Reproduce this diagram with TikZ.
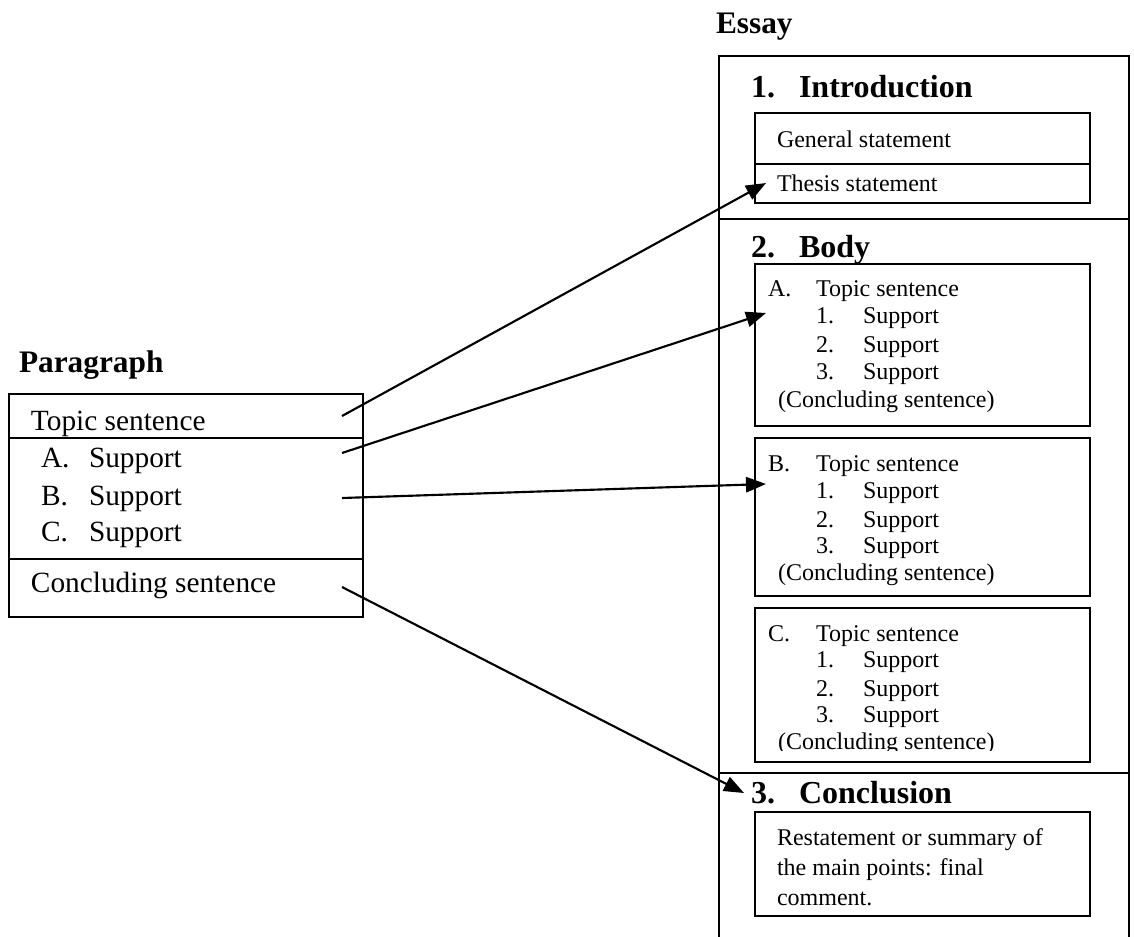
\documentclass[tikz,border=0pt]{standalone}
\usepackage{fontspec}
\setmainfont{Liberation Serif}
\usetikzlibrary{arrows.meta}
\begin{document}
\begin{tikzpicture}[x=0.75pt,y=-0.75pt, line width=1.5pt,
  txt/.style={anchor=base west, inner sep=0pt, font=\fontsize{18}{20}\selectfont},
  ptxt/.style={anchor=base west, inner sep=0pt, font=\fontsize{22}{24}\selectfont},
  sec/.style={anchor=base west, inner sep=0pt, font=\fontsize{24}{28}\selectfont\bfseries},
  ttl/.style={anchor=base west, inner sep=0pt, font=\fontsize{23.5}{26}\selectfont\bfseries},
  arr/.style={line width=1.6pt, -{Triangle[length=15pt,width=11.5pt]}}]
\useasboundingbox (0,0) rectangle (1134,936);
\clip (0,0) rectangle (1134,936);

% ---------- Paragraph ----------
\node[ttl] (ptitle) at (18,372) {Paragraph};
\draw (9,394) rectangle (363,617);
\draw (9,438) -- (363,438);
\draw (9,559) -- (363,559);
\node[ptxt] (pts) at (30,430) {Topic sentence};
\node[ptxt] (pA) at (40,467) {A.};
\node[ptxt] (pAs) at (88,467) {Support};
\node[ptxt] (pB) at (40,505) {B.};
\node[ptxt] (pBs) at (88,505) {Support};
\node[ptxt] (pC) at (40,541) {C.};
\node[ptxt] (pCs) at (88,541) {Support};
\node[ptxt] (pcs) at (30,592) {Concluding sentence};

% ---------- Essay ----------
\node[ttl] (etitle) at (715,33) {Essay};
\draw (719,945) -- (719,56) -- (1129,56) -- (1129,945);
\draw (719,218.5) -- (1129,218.5);
\draw (719,773) -- (1129,773);

% Introduction
\node[sec] (i1) at (750,97) {1.};
\node[sec] (i2) at (798,97) {Introduction};
\draw (755,113) rectangle (1090,203);
\draw (755,164) -- (1090,164);
\node[txt] (gs) at (776,147) {General statement};
\node[txt] (ts) at (776,191) {Thesis statement};

% Body
\node[sec] (b1) at (750,257) {2.};
\node[sec] (b2) at (798,257) {Body};
\draw (755,264) rectangle (1090,426);
\node[txt] (aL) at (767,296) {A.};
\node[txt] (aT) at (815,296) {Topic sentence};
\node[txt] (a1) at (815,323) {1.};
\node[txt] (a1s) at (862,323) {Support};
\node[txt] (a2) at (815,352) {2.};
\node[txt] (a2s) at (862,352) {Support};
\node[txt] (a3) at (815,379) {3.};
\node[txt] (a3s) at (862,379) {Support};
\node[txt] (aC) at (777,407) {(Concluding sentence)};

\draw (755,438) rectangle (1090,596);
\node[txt] (bL) at (767,471) {B.};
\node[txt] (bT) at (815,471) {Topic sentence};
\node[txt] (b1n) at (815,498) {1.};
\node[txt] (b1s) at (862,498) {Support};
\node[txt] (b2n) at (815,527) {2.};
\node[txt] (b2s) at (862,527) {Support};
\node[txt] (b3n) at (815,553) {3.};
\node[txt] (b3s) at (862,553) {Support};
\node[txt] (bC) at (777,580) {(Concluding sentence)};

\draw (755,608) rectangle (1090,762);
\node[txt] (cL) at (767,641) {C.};
\node[txt] (cT) at (815,641) {Topic sentence};
\node[txt] (c1n) at (815,667) {1.};
\node[txt] (c1s) at (862,667) {Support};
\node[txt] (c2n) at (815,696) {2.};
\node[txt] (c2s) at (862,696) {Support};
\node[txt] (c3n) at (815,722) {3.};
\node[txt] (c3s) at (862,722) {Support};
\begin{scope}
\clip (755,608) rectangle (1090,750);
\node[txt] (cC) at (777,749) {(Concluding sentence)};
\end{scope}

% Conclusion
\node[sec] (k1) at (750,803) {3.};
\node[sec] (k2) at (798,803) {Conclusion};
\draw (755,812) rectangle (1090,916);
\node[txt] (r1) at (776,845) {Restatement or summary of};
\node[txt] (r2) at (776,875) {the main points: final};
\node[txt] (r3) at (776,905) {comment.};

% ---------- Connectors ----------
\coordinate (s1) at (342,416);
\coordinate (t1) at (766,183);
\coordinate (s2) at (342,453);
\coordinate (t2) at (766,313);
\coordinate (s3) at (342,498);
\coordinate (t3) at (766,484);
\coordinate (s4) at (342,587);
\coordinate (t4) at (744,793);
\draw[arr] (s1) -- (t1);
\draw[arr] (s2) -- (t2);
\draw[arr] (s3) -- (t3);
\draw[arr] (s4) -- (t4);
\end{tikzpicture}
\end{document}
